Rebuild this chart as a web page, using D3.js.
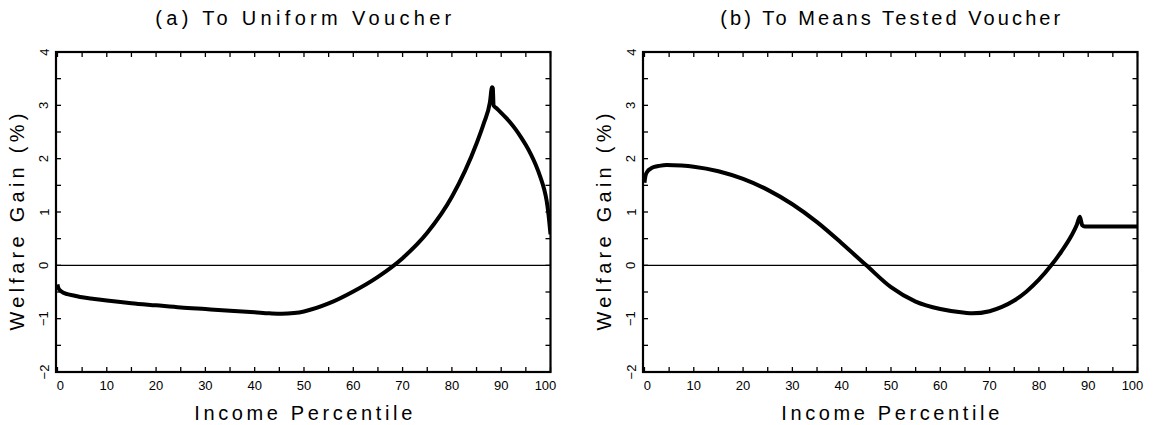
<!DOCTYPE html>
<html>
<head>
<meta charset="utf-8">
<script src="https://cdn.jsdelivr.net/npm/d3@7"></script>
<style>
body { margin: 0; background: #fff; }
svg text { font-family: "Liberation Sans", Arial, sans-serif; fill: #000; }
</style>
</head>
<body>
<div id="content"></div>
<script>
var titles = ["(a) To Uniform Voucher", "(b) To Means Tested Voucher"];
var x_label = "Income Percentile";
var y_label = "Welfare Gain (%)";
var x_ticks = [0, 10, 20, 30, 40, 50, 60, 70, 80, 90, 100];
var y_ticks = [-2, -1, 0, 1, 2, 3, 4];

// (a) uniform voucher
var uniform_x = [0, 0.2, 0.8, 2, 3.5, 5, 7.5, 10, 15, 20, 25, 30, 35, 40, 43, 45.5, 48, 50, 55,
    60, 65, 70, 75, 80, 85, 86.5, 87.7, 88.15, 88.3, 88.45,
    89, 90, 91, 92, 93, 94, 95, 96, 97, 98, 98.7, 99.2, 99.6, 100];
var uniform_y = [-0.36, -0.43, -0.49, -0.54, -0.57, -0.6, -0.63, -0.66, -0.71, -0.75, -0.79, -0.82, -0.85, -0.88, -0.9, -0.91, -0.895, -0.865, -0.715,
    -0.49, -0.215, 0.135, 0.61, 1.285, 2.285, 2.67, 3.05, 3.34, 3.32, 3.0,
    2.95, 2.86, 2.765, 2.66, 2.54, 2.405, 2.255, 2.085, 1.885, 1.64, 1.43, 1.22, 0.95, 0.58];

// (b) means tested voucher
var means_x = [0, 0.2, 0.6, 1.2, 2, 3, 4.5, 7.5, 10, 15, 20, 25, 30, 35, 40, 45, 50,
    55, 60, 65, 66.5, 70, 72.5, 75, 77.5, 80, 82.5, 84.5, 86.5, 87.7, 88.3,
    88.8, 89.3, 95, 100];
var means_y = [1.55, 1.68, 1.76, 1.81, 1.845, 1.865, 1.88, 1.87, 1.85, 1.765, 1.62, 1.415, 1.145, 0.81, 0.415, 0, -0.41,
    -0.68, -0.82, -0.89, -0.9, -0.86, -0.78, -0.66, -0.49, -0.27, 0, 0.25, 0.54, 0.76, 0.91,
    0.75, 0.73, 0.73, 0.73];

var series = [
    {x: uniform_x, y: uniform_y},
    {x: means_x, y: means_y}
];

var width = 1156, height = 425;
var panel_left = [56, 643];
var panel_width = 494.5;
var top_y = 52, bottom_y = 372;
var tick_len = 5;

var chart = d3.select("#content")
  .append("svg")
  .attr("width", width)
  .attr("height", height);

chart.append("rect")
  .attr("width", width)
  .attr("height", height)
  .attr("fill", "#fff");

series.forEach(function(s, i) {
    var left = panel_left[i];
    var right = left + panel_width;
    var x = d3.scaleLinear().domain([-0.3, 100]).range([left, right]);
    var y = d3.scaleLinear().domain([-2, 4]).range([bottom_y, top_y]);
    var g = chart.append("g");
    var cx = (left + right) / 2;

    g.append("clipPath")
      .attr("id", "clip" + i)
      .append("rect")
      .attr("x", left).attr("y", top_y)
      .attr("width", panel_width).attr("height", bottom_y - top_y);

    // minor ticks on all four sides
    d3.range(0, 101, 5).forEach(function(v) {
        g.append("line")
          .attr("x1", x(v)).attr("x2", x(v))
          .attr("y1", bottom_y).attr("y2", bottom_y - tick_len)
          .attr("stroke", "#000").attr("stroke-width", 1.3);
        g.append("line")
          .attr("x1", x(v)).attr("x2", x(v))
          .attr("y1", top_y).attr("y2", top_y + tick_len)
          .attr("stroke", "#000").attr("stroke-width", 1.3);
    });
    d3.range(-2, 4.01, 0.5).forEach(function(v) {
        g.append("line")
          .attr("x1", left).attr("x2", left + tick_len)
          .attr("y1", y(v)).attr("y2", y(v))
          .attr("stroke", "#000").attr("stroke-width", 1.3);
        g.append("line")
          .attr("x1", right).attr("x2", right - tick_len)
          .attr("y1", y(v)).attr("y2", y(v))
          .attr("stroke", "#000").attr("stroke-width", 1.3);
    });

    // zero line
    g.append("line")
      .attr("x1", left).attr("x2", right)
      .attr("y1", y(0)).attr("y2", y(0))
      .attr("stroke", "#000").attr("stroke-width", 1.2);

    var line = d3.line()
      .x(function(d) { return x(d[0]); })
      .y(function(d) { return y(d[1]); })
      .curve(d3.curveMonotoneX);

    g.append("path")
      .datum(d3.zip(s.x, s.y))
      .attr("clip-path", "url(#clip" + i + ")")
      .attr("d", line)
      .attr("fill", "none")
      .attr("stroke", "#000")
      .attr("stroke-width", 4)
      .attr("stroke-linejoin", "round");

    g.append("rect")
      .attr("x", left).attr("y", top_y)
      .attr("width", panel_width).attr("height", bottom_y - top_y)
      .attr("fill", "none")
      .attr("stroke", "#000")
      .attr("stroke-width", 2.2);

    // tick labels
    x_ticks.forEach(function(v) {
        var nudge = v == 0 ? 3 : (v == 100 ? -5 : 0);
        g.append("text")
          .attr("x", x(v) + nudge)
          .attr("y", 390)
          .attr("text-anchor", "middle")
          .attr("font-size", "13px")
          .text(v);
    });
    y_ticks.forEach(function(v) {
        var tx = left - 7.5, ty = y(v);
        g.append("text")
          .attr("x", tx).attr("y", ty)
          .attr("text-anchor", "middle")
          .attr("font-size", "13px")
          .attr("transform", "rotate(-90 " + tx + " " + ty + ")")
          .text(v < 0 ? "\u2212" + Math.abs(v) : v);
    });

    // titles and axis labels
    g.append("text")
      .attr("x", cx).attr("y", 25)
      .attr("text-anchor", "middle")
      .attr("font-size", "20px")
      .attr("textLength", i == 0 ? 296 : 340)
      .attr("lengthAdjust", "spacing")
      .text(titles[i]);

    g.append("text")
      .attr("x", cx).attr("y", 420)
      .attr("text-anchor", "middle")
      .attr("font-size", "20px")
      .attr("textLength", 218)
      .attr("lengthAdjust", "spacing")
      .text(x_label);

    var lx = left - 32, ly = 222;
    g.append("text")
      .attr("x", lx).attr("y", ly)
      .attr("text-anchor", "middle")
      .attr("font-size", "20px")
      .attr("textLength", 217)
      .attr("lengthAdjust", "spacing")
      .attr("transform", "rotate(-90 " + lx + " " + ly + ")")
      .text(y_label);
});
</script>
</body>
</html>
